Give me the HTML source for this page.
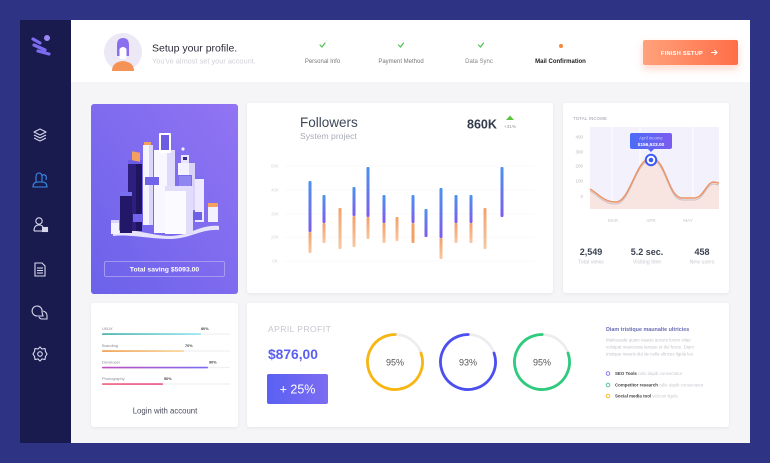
<!DOCTYPE html>
<html><head><meta charset="utf-8"><style>
html,body{margin:0;padding:0;background:#2f3383;}
svg{display:block;font-family:"Liberation Sans",sans-serif;}
</style></head><body>
<svg width="770" height="463" viewBox="0 0 770 463" xmlns="http://www.w3.org/2000/svg">
<defs>
<linearGradient id="pg" x1="1" y1="0" x2="0" y2="1"><stop offset="0" stop-color="#9174f3"/><stop offset="1" stop-color="#6b62ea"/></linearGradient>
<linearGradient id="btn" x1="0" y1="0" x2="1" y2="0"><stop offset="0" stop-color="#ffa27c"/><stop offset="1" stop-color="#ff6e48"/></linearGradient>
<linearGradient id="blue" x1="0" y1="0" x2="0" y2="1"><stop offset="0" stop-color="#4a93ef"/><stop offset="1" stop-color="#7d5bf0"/></linearGradient>
<linearGradient id="orng" x1="0" y1="0" x2="0" y2="1"><stop offset="0" stop-color="#f4a06a"/><stop offset="1" stop-color="#f8c7a2"/></linearGradient>
<linearGradient id="tip" x1="0" y1="0" x2="1" y2="0"><stop offset="0" stop-color="#4a6cf7"/><stop offset="1" stop-color="#7c5cf0"/></linearGradient>
<linearGradient id="pbtn" x1="0" y1="0" x2="1" y2="0"><stop offset="0" stop-color="#5a60f3"/><stop offset="1" stop-color="#7c6cf1"/></linearGradient>
<linearGradient id="g1" x1="0" y1="0" x2="1" y2="0"><stop offset="0" stop-color="#3aaea8"/><stop offset="1" stop-color="#92e6f2"/></linearGradient>
<linearGradient id="g2" x1="0" y1="0" x2="1" y2="0"><stop offset="0" stop-color="#ef9a48"/><stop offset="1" stop-color="#f8d59a"/></linearGradient>
<linearGradient id="g3" x1="0" y1="0" x2="1" y2="0"><stop offset="0" stop-color="#c04fbf"/><stop offset="1" stop-color="#7a6cf2"/></linearGradient>
<linearGradient id="g4" x1="0" y1="0" x2="1" y2="0"><stop offset="0" stop-color="#f0607a"/><stop offset="1" stop-color="#e9508a"/></linearGradient>
<filter id="sh" x="-10%" y="-10%" width="120%" height="130%"><feDropShadow dx="0" dy="1" stdDeviation="1.5" flood-color="#000" flood-opacity="0.06"/></filter>
<filter id="bsh" x="-20%" y="-30%" width="140%" height="190%"><feDropShadow dx="0" dy="4" stdDeviation="4" flood-color="#ff7a50" flood-opacity="0.3"/></filter>
</defs>

<!-- background -->
<rect width="770" height="463" fill="#2f3383"/>
<!-- sidebar -->
<rect x="20" y="20" width="51" height="423" fill="#191a4d"/>
<!-- main -->
<rect x="71" y="20" width="679" height="423" fill="#f5f5f7"/>
<rect x="71" y="20" width="679" height="62" fill="#ffffff"/>

<!-- logo -->
<g stroke="#7d6cf2" stroke-width="3.2" stroke-linecap="round">
<line x1="33" y1="39" x2="40" y2="43"/>
<line x1="34" y1="45" x2="45" y2="50"/>
<line x1="38" y1="51" x2="49" y2="54"/>
</g>
<circle cx="47" cy="38" r="3" fill="#9a88f5"/>

<!-- sidebar icons -->
<g fill="none" stroke="#d8d8ec" stroke-width="1.1" stroke-linejoin="round">
<polygon points="34,132 40,129 46,132 40,135"/>
<polyline points="34,135 40,138 46,135"/>
<polyline points="34,138 40,141 46,138"/>
</g>
<g fill="none" stroke="#3a8ee6" stroke-width="1.1">
<path d="M36,182 L36,177 Q36,173 39,173 Q42,173 42,177 L42,182"/>
<path d="M33,187 Q33,182 38,182 L42,182 Q47,182 47,187 Z"/>
<path d="M42,176 Q43,174 45,175 Q47,176 46,180"/>
</g>
<g fill="none" stroke="#d8d8ec" stroke-width="1.1">
<circle cx="39" cy="221" r="3.2"/>
<path d="M34,231 Q34,225 39,225 Q42,225 43,227"/>
<line x1="34" y1="231" x2="42" y2="231"/>
<rect x="42.5" y="227.5" width="5" height="4" fill="#d8d8ec"/>
</g>
<g fill="none" stroke="#d8d8ec" stroke-width="1.1">
<path d="M35,263 L42,263 L45,266 L45,276 L35,276 Z"/>
<line x1="37" y1="268" x2="43" y2="268"/>
<line x1="37" y1="270.5" x2="43" y2="270.5"/>
<line x1="37" y1="273" x2="43" y2="273"/>
</g>
<g fill="none" stroke="#d8d8ec" stroke-width="1.1">
<path d="M37,316 A5,5 0 1 1 42,312 L43,316 Z"/>
<path d="M43,311 Q47,312 47,316 L47,319 L42,319 Q40,319 39,317"/>
</g>
<g fill="none" stroke="#d8d8ec" stroke-width="1.1">
<polygon points="40,347 42,349 45,348.5 45.5,351.5 47,354 45.5,356.5 45,359.5 42,359 40,361 38,359 35,359.5 34.5,356.5 33,354 34.5,351.5 35,348.5 38,349"/>
<circle cx="40" cy="354" r="2.3"/>
</g>

<!-- header -->
<circle cx="123" cy="52" r="19" fill="#ece8f6"/>
<path d="M112,71 Q112,62 123,61 Q134,62 134,71 Z" fill="#f59256"/>
<path d="M117,56 L117,45 Q117,38 123,38 Q129,38 129,45 L129,56 Z" fill="#8a70ee"/>
<path d="M119.5,58 L119.5,49 Q123,45 126.5,49 L126.5,58 Q123,61 119.5,58 Z" fill="#ffffff"/>
<text x="152" y="51.5" font-size="10.5" fill="#2b2b3a">Setup your profile.</text>
<text x="152" y="63.5" font-size="7.4" fill="#d0d0d8">You've almost set your account.</text>

<g fill="none" stroke="#4cc24c" stroke-width="1.2" stroke-linecap="round">
<polyline points="320,45 322,47 325,43"/>
<polyline points="398.5,45 400.5,47 403.5,43"/>
<polyline points="478.5,45 480.5,47 483.5,43"/>
</g>
<circle cx="561" cy="46" r="2" fill="#f5883a"/>
<text x="322.5" y="63" font-size="6" fill="#777" text-anchor="middle">Personal Info</text>
<text x="401" y="63" font-size="6" fill="#777" text-anchor="middle">Payment Method</text>
<text x="479" y="63" font-size="6" fill="#888" text-anchor="middle">Data Sync</text>
<text x="560.5" y="63" font-size="6" fill="#222" font-weight="bold" text-anchor="middle">Mail Confirmation</text>

<rect x="643" y="40" width="95" height="25" rx="2" fill="url(#btn)" filter="url(#bsh)"/>
<text x="682" y="55" font-size="5.6" fill="#fff" font-weight="bold" text-anchor="middle" letter-spacing="0.3">FINISH SETUP</text>
<path d="M711,52.5 L717,52.5 M714.5,50 L717,52.5 L714.5,55" stroke="#fff" stroke-width="1" fill="none"/>

<!-- purple card -->
<rect x="91" y="104" width="147" height="190" rx="3" fill="url(#pg)"/>
<!-- illustration -->
<g>
<path d="M113,232 C130,226 150,236 170,236 C190,236 200,224 219,226 L219,230 C200,229 190,239 170,239 C150,239 130,234 113,236 Z" fill="#e7e3fb"/>
<rect x="111" y="222" width="8" height="12" fill="#f4f2ff"/>
<rect x="111" y="220" width="8" height="3" fill="#d8d2fa"/>
<rect x="128" y="163" width="14" height="68" fill="#2e1f7e"/>
<rect x="136" y="163" width="6" height="68" fill="#1f155e"/>
<rect x="128" y="160" width="14" height="4" fill="#6a5ce6"/>
<rect x="132" y="152" width="8" height="9" fill="#f5a060" transform="skewY(10)" transform-origin="136 156"/>
<rect x="120" y="195" width="12" height="38" fill="#231868"/>
<rect x="120" y="192" width="12" height="4" fill="#7a6ef0"/>
<rect x="143" y="145" width="10" height="80" fill="#f6f4ff"/>
<rect x="149" y="145" width="4" height="80" fill="#dcd6fb"/>
<rect x="144" y="142" width="7" height="3" fill="#f5a060"/>
<rect x="154" y="150" width="21" height="83" fill="#f8f7ff"/>
<rect x="167" y="150" width="8" height="83" fill="#dfd9fb"/>
<rect x="159" y="133" width="12" height="20" rx="1" fill="#ffffff"/>
<rect x="161" y="135" width="8" height="15" fill="#6c5ce4"/>
<rect x="145" y="177" width="14" height="8" fill="#7163ea"/>
<rect x="178" y="163" width="17" height="47" fill="#f4f2ff"/>
<rect x="189" y="163" width="6" height="47" fill="#d9d3fa"/>
<circle cx="183" cy="149" r="1.6" fill="#f3eeff"/>
<rect x="181" y="155" width="8" height="8" fill="#e9e5ff"/>
<rect x="183" y="157" width="4" height="3" fill="#3a2a8a"/>
<rect x="178" y="175" width="14" height="12" fill="#7a6fe8"/>
<rect x="179" y="176" width="12" height="10" fill="#8f86ef"/>
<rect x="165" y="188" width="28" height="46" fill="#fbfbff"/>
<rect x="165" y="186" width="28" height="5" fill="#e2ddfb"/>
<rect x="186" y="191" width="7" height="43" fill="#e1dcfb"/>
<rect x="195" y="178" width="9" height="44" fill="#eee9ff"/>
<rect x="195" y="176" width="9" height="3" fill="#7d70ee"/>
<rect x="193" y="212" width="9" height="8" fill="#6d5fe6"/>
<rect x="208" y="206" width="10" height="16" fill="#f2efff"/>
<rect x="208" y="203" width="10" height="4" fill="#f5a060"/>
<rect x="133" y="214" width="10" height="8" fill="#7264ea"/>
</g>
<rect x="104.5" y="261.5" width="120" height="15" rx="1.5" fill="none" stroke="#b4a6f5" stroke-width="0.8"/>
<text x="164.5" y="271.5" font-size="6.8" fill="#ffffff" font-weight="bold" text-anchor="middle">Total saving $5093.00</text>

<!-- followers card -->
<rect x="247" y="103" width="306" height="190" rx="3" fill="#fff" filter="url(#sh)"/>
<text x="300" y="127" font-size="13.5" fill="#3b4658">Followers</text>
<text x="300" y="139" font-size="8.6" fill="#a9acb8">System project</text>
<text x="467" y="128.5" font-size="12.5" fill="#333b4a" font-weight="bold">860K</text>
<path d="M506,120 L510,115.5 L514,120 Z" fill="#5cc43c"/>
<text x="510" y="128" font-size="4.8" fill="#999" text-anchor="middle">+31%</text>
<g stroke="#f3f3f6" stroke-width="0.6">
<line x1="285" y1="166" x2="535" y2="166"/>
<line x1="285" y1="190" x2="535" y2="190"/>
<line x1="285" y1="214" x2="535" y2="214"/>
<line x1="285" y1="237" x2="535" y2="237"/>
<line x1="285" y1="261" x2="535" y2="261"/>
</g>
<g font-size="4.5" fill="#d6d6dc" text-anchor="middle">
<text x="275" y="167.5">50K</text>
<text x="275" y="191.5">40K</text>
<text x="275" y="215.5">30K</text>
<text x="275" y="238.5">20K</text>
<text x="275" y="262.5">0K</text>
</g>
<g>
<!-- orange lower parts -->
<rect x="308.5" y="232" width="3" height="21" rx="1" fill="url(#orng)"/>
<rect x="322.5" y="223" width="3" height="20" rx="1" fill="url(#orng)"/>
<rect x="338.5" y="208" width="3" height="41" rx="1" fill="url(#orng)"/>
<rect x="352.5" y="216" width="3" height="31" rx="1" fill="url(#orng)"/>
<rect x="366.5" y="217" width="3" height="22" rx="1" fill="url(#orng)"/>
<rect x="382.5" y="223" width="3" height="20" rx="1" fill="url(#orng)"/>
<rect x="395.5" y="217" width="3" height="24" rx="1" fill="url(#orng)"/>
<rect x="411.5" y="223" width="3" height="20" rx="1" fill="#f4a064"/>
<rect x="439.5" y="238" width="3" height="21" rx="1" fill="url(#orng)"/>
<rect x="454.5" y="223" width="3" height="20" rx="1" fill="url(#orng)"/>
<rect x="469.5" y="223" width="3" height="20" rx="1" fill="url(#orng)"/>
<rect x="483.5" y="208" width="3" height="41" rx="1" fill="url(#orng)"/>
<!-- blue upper parts -->
<rect x="308.5" y="181" width="3" height="51" rx="1" fill="url(#blue)"/>
<rect x="322.5" y="195" width="3" height="28" rx="1" fill="url(#blue)"/>
<rect x="352.5" y="187" width="3" height="29" rx="1" fill="url(#blue)"/>
<rect x="366.5" y="167" width="3" height="50" rx="1" fill="url(#blue)"/>
<rect x="382.5" y="195" width="3" height="28" rx="1" fill="url(#blue)"/>
<rect x="411.5" y="195" width="3" height="28" rx="1" fill="url(#blue)"/>
<rect x="424.5" y="209" width="3" height="28" rx="1" fill="url(#blue)"/>
<rect x="439.5" y="188" width="3" height="50" rx="1" fill="url(#blue)"/>
<rect x="454.5" y="195" width="3" height="28" rx="1" fill="url(#blue)"/>
<rect x="469.5" y="195" width="3" height="28" rx="1" fill="url(#blue)"/>
<rect x="500.5" y="167" width="3" height="50" rx="1" fill="url(#blue)"/>
</g>

<!-- total income card -->
<rect x="563" y="103" width="166" height="190" rx="3" fill="#fff" filter="url(#sh)"/>
<text x="573" y="120" font-size="4.3" fill="#9a9aa6" letter-spacing="0.2">TOTAL INCOME</text>
<rect x="590" y="127" width="129" height="82" fill="#f3f1fc"/>
<g stroke="#ffffff" stroke-width="1">
<line x1="612" y1="127" x2="612" y2="209"/>
<line x1="640" y1="127" x2="640" y2="209"/>
<line x1="693" y1="127" x2="693" y2="209"/>
</g>
<path d="M590,189 C600,195 604,202 616,202 C630,202 636,158 651,158 C666,158 668,198 682,198 L694,198 C704,198 706,182 714,182 L719,183 L719,209 L590,209 Z" fill="#f8e4e0"/>
<path d="M590,191 C600,197 604,204 616,204 C630,204 636,160 651,160 C666,160 668,200 682,200 L694,200 C704,200 706,184 714,184 L719,185" fill="none" stroke="#c9c0c6" stroke-width="1"/>
<path d="M590,189 C600,195 604,202 616,202 C630,202 636,158 651,158 C666,158 668,198 682,198 L694,198 C704,198 706,182 714,182 L719,183" fill="none" stroke="#eb9468" stroke-width="1.5"/>
<g font-size="4.5" fill="#b8b8c2" text-anchor="end">
<text x="583" y="138.5">400</text>
<text x="583" y="153.5">300</text>
<text x="583" y="167.5">200</text>
<text x="583" y="182.5">100</text>
<text x="583" y="198">0</text>
</g>
<g font-size="4.5" fill="#c4c4cc" text-anchor="middle">
<text x="613" y="222">MAR</text>
<text x="651" y="222">APR</text>
<text x="688" y="222">MAY</text>
</g>
<rect x="630" y="133" width="42" height="16" rx="2" fill="url(#tip)"/>
<path d="M648,149 L651,152 L654,149 Z" fill="#5a66f4"/>
<text x="651" y="139.5" font-size="4.3" fill="#c8ccff" text-anchor="middle">April income</text>
<text x="651" y="146" font-size="4.8" fill="#ffffff" font-weight="bold" text-anchor="middle">$156,523.00</text>
<circle cx="651" cy="160" r="5.2" fill="#fff" stroke="#3d5af1" stroke-width="2"/>
<circle cx="651" cy="160" r="2.3" fill="#3d5af1"/>
<text x="591" y="255" font-size="9" fill="#3b4252" font-weight="bold" text-anchor="middle">2,549</text>
<text x="647" y="255" font-size="9" fill="#3b4252" font-weight="bold" text-anchor="middle">5.2 sec.</text>
<text x="702" y="255" font-size="9" fill="#3b4252" font-weight="bold" text-anchor="middle">458</text>
<g font-size="5.3" fill="#c9c9d1" text-anchor="middle">
<text x="591" y="263.5">Total views</text>
<text x="647" y="263.5">Visiting time</text>
<text x="702" y="263.5">New users</text>
</g>

<!-- bottom left card -->
<rect x="91" y="303" width="147" height="124" rx="3" fill="#fff" filter="url(#sh)"/>
<g stroke="#f0f0f4" stroke-width="1.2">
<line x1="102" y1="334" x2="230" y2="334"/>
<line x1="102" y1="351" x2="230" y2="351"/>
<line x1="102" y1="367.5" x2="230" y2="367.5"/>
<line x1="102" y1="384" x2="230" y2="384"/>
</g>
<rect x="102" y="333.2" width="99" height="1.7" rx="0.8" fill="url(#g1)"/>
<rect x="102" y="350.2" width="82" height="1.7" rx="0.8" fill="url(#g2)"/>
<rect x="102" y="366.7" width="106" height="1.7" rx="0.8" fill="url(#g3)"/>
<rect x="102" y="383.2" width="61" height="1.7" rx="0.8" fill="url(#g4)"/>
<g font-size="4" fill="#8a8a96">
<text x="102" y="330">UI/UX</text>
<text x="102" y="347">Branding</text>
<text x="102" y="363.5">Developer</text>
<text x="102" y="380">Photography</text>
</g>
<g font-size="3.8" fill="#444" font-weight="bold">
<text x="201" y="330">80%</text>
<text x="185" y="347">70%</text>
<text x="209" y="363.5">90%</text>
<text x="164" y="380">50%</text>
</g>
<text x="165" y="413.5" font-size="7.8" fill="#4a4d5e" text-anchor="middle">Login with account</text>

<!-- april profit card -->
<rect x="247" y="303" width="482" height="124" rx="3" fill="#fff" filter="url(#sh)"/>
<text x="268" y="332" font-size="8.6" fill="#c6c6ce" letter-spacing="0.4">APRIL PROFIT</text>
<text x="268" y="359" font-size="13.8" fill="#5b5ff0" font-weight="bold">$876,00</text>
<rect x="267" y="374" width="61" height="30" rx="2" fill="url(#pbtn)"/>
<text x="297.5" y="393.5" font-size="12.5" fill="#ffffff" text-anchor="middle">+ 25%</text>

<g fill="none" stroke-width="2.8">
<circle cx="395" cy="362" r="27.5" stroke="#ededf0"/>
<circle cx="395" cy="362" r="27.5" stroke="#f7b611" stroke-dasharray="138.7 200" transform="rotate(-19 395 362)" stroke-linecap="round"/>
<circle cx="468" cy="362" r="27.5" stroke="#ededf0"/>
<circle cx="468" cy="362" r="27.5" stroke="#4b4ff0" stroke-dasharray="138.7 200" transform="rotate(-19 468 362)" stroke-linecap="round"/>
<circle cx="542" cy="362" r="27.5" stroke="#ededf0"/>
<circle cx="542" cy="362" r="27.5" stroke="#2ecb7e" stroke-dasharray="138.7 200" transform="rotate(-19 542 362)" stroke-linecap="round"/>
</g>
<g font-size="9" fill="#555" text-anchor="middle">
<text x="395" y="365.5">95%</text>
<text x="468" y="365.5">93%</text>
<text x="542" y="365.5">95%</text>
</g>

<text x="606" y="331" font-size="5.4" fill="#6a6db4" font-weight="bold">Diam tristique maunalte ultricies</text>
<g font-size="4.4" fill="#c4c4cc">
<text x="606" y="341.5">Malesuada quam vaauis aocum lorem vitae</text>
<text x="606" y="348.5">volutpat maecenas tanque et dui fusce. Diam</text>
<text x="606" y="355.5">tristique mauris dui de nulla ultrices ligula leo</text>
</g>
<circle cx="608" cy="373.5" r="1.8" fill="none" stroke="#7a6cf0" stroke-width="0.9"/>
<circle cx="608" cy="385" r="1.8" fill="none" stroke="#48c0a0" stroke-width="0.9"/>
<circle cx="608" cy="396" r="1.8" fill="none" stroke="#f7b611" stroke-width="0.9"/>
<g font-size="4.4">
<text x="615" y="375" fill="#444" font-weight="bold">SEO Tools <tspan fill="#c8c8d0" font-weight="normal">  odio dapib consectetur</tspan></text>
<text x="615" y="386.5" fill="#444" font-weight="bold">Competitor research <tspan fill="#c8c8d0" font-weight="normal">  odio dapib consectetur</tspan></text>
<text x="615" y="397.5" fill="#444" font-weight="bold">Social media tool <tspan fill="#c8c8d0" font-weight="normal">  velcom ligula</tspan></text>
</g>
</svg>
</body></html>
